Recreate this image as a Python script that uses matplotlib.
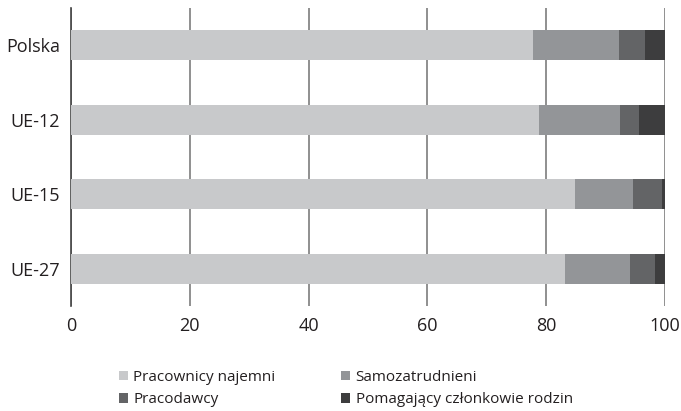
import matplotlib.pyplot as plt
import numpy as np
from matplotlib.patches import Patch

plt.rcParams["font.family"] = ["Open Sans", "DejaVu Sans"]

# --- data (percent of employed) ---
regions = ["Polska", "UE-12", "UE-15", "UE-27"]
pracownicy = [77.8, 78.8, 84.9, 83.2]
samozatrudnieni = [14.5, 13.6, 9.7, 10.9]
pracodawcy = [4.4, 3.3, 4.9, 4.3]
pomagajacy = [3.3, 4.3, 0.5, 1.6]

labels = ["Pracownicy najemni", "Samozatrudnieni", "Pracodawcy",
          "Pomagający członkowie rodzin"]
colors = ["#c8c9cb", "#939598", "#636466", "#3d3d3e"]

series = [pracownicy, samozatrudnieni, pracodawcy, pomagajacy]

fig = plt.figure(figsize=(6.81, 4.11), dpi=100)
ax = fig.add_axes([71 / 681, 1 - 306 / 411, (665 - 71) / 681, (306 - 8) / 411])

y = np.arange(len(regions))
left = np.zeros(len(regions))
for vals, col in zip(series, colors):
    ax.barh(y, vals, height=0.40, left=left, color=col, zorder=3)
    left += np.array(vals)

ax.set_xlim(0, 100)
ax.set_ylim(3.5, -0.5)
ax.set_xticks(np.arange(0, 101, 20))
ax.set_yticks(y)
ax.set_yticklabels(regions)
ax.tick_params(axis="both", length=0, labelsize=13, colors="#231f20")
ax.tick_params(axis="x", pad=8)
ax.tick_params(axis="y", pad=8)
ax.grid(axis="x", color="#7d7d7d", linewidth=1.2, zorder=0)

for side in ["top", "right", "bottom"]:
    ax.spines[side].set_visible(False)
ax.spines["left"].set_color("#444444")
ax.spines["left"].set_linewidth(1.2)

handles = [Patch(facecolor=c, edgecolor="none") for c in colors]
order = [0, 2, 1, 3]
fig.legend([handles[i] for i in order], [labels[i] for i in order],
           ncol=2, loc="lower left", bbox_to_anchor=(105 / 681, -0.024),
           frameon=False, fontsize=11, handlelength=0.6, handleheight=0.6,
           handletextpad=0.35, columnspacing=4.3, labelspacing=0.48,
           labelcolor="#231f20")

fig.savefig("out.png", dpi=100)
